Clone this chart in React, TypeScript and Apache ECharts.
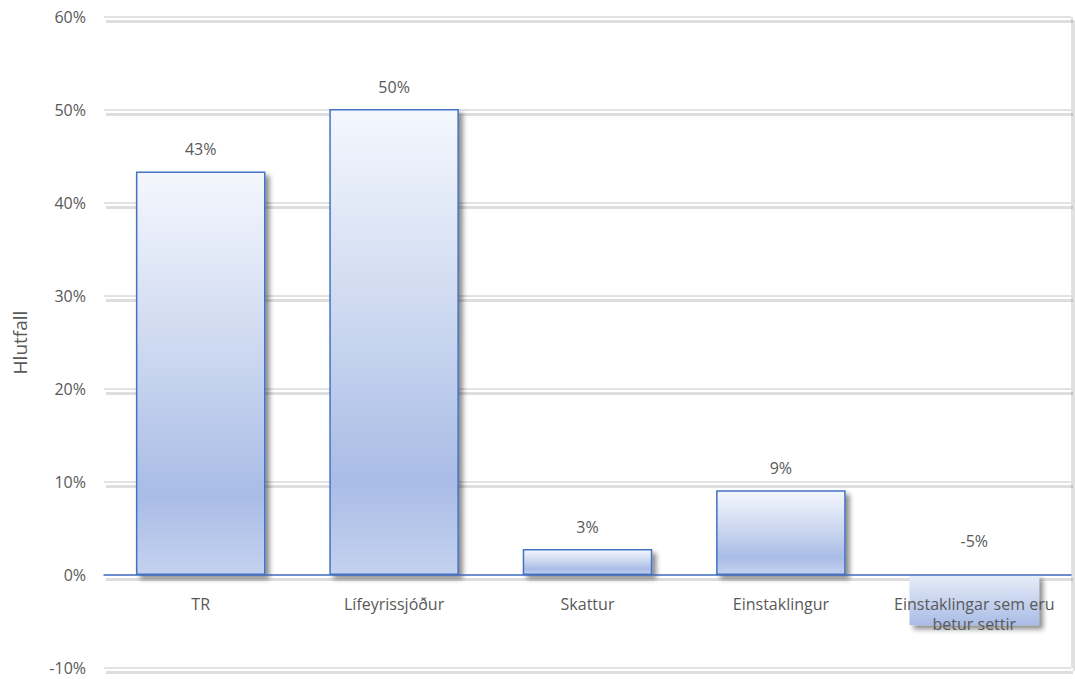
import React, { useEffect, useRef } from "react";
import * as echarts from "echarts";

const categories = ["TR", "Lífeyrissjóður", "Skattur", "Einstaklingur", "Einstaklingar sem eru\nbetur settir"];
const values = [43.4, 50.1, 2.8, 9.1, -5.4];
const yTicks = { min: -10, max: 60, interval: 10 };
const yAxisName = "Hlutfall";

const FONT = "'Open Sans', sans-serif";
const TEXT = "#595959";

export default function App() {
  const ref = useRef<HTMLDivElement>(null);
  useEffect(() => {
    if (!ref.current) return;
    const chart = echarts.init(ref.current, null, { renderer: "svg" });
    const posGrad = new echarts.graphic.LinearGradient(0, 0, 0, 1, [
      { offset: 0, color: "#f4f7fd" },
      { offset: 0.45, color: "#ccd8f0" },
      { offset: 0.8, color: "#a9bce6" },
      { offset: 1, color: "#c4d2ef" },
    ]);
    const negGrad = new echarts.graphic.LinearGradient(0, 0, 0, 1, [
      { offset: 0, color: "#e8edf8" },
      { offset: 1, color: "#a9bce6" },
    ]);
    const data = values.map((v) =>
      v < 0
        ? {
            value: v,
            itemStyle: { color: negGrad, borderWidth: 0 },
            label: { position: "insideTop", offset: [0, -56] },
          }
        : { value: v }
    );
    const W = 1075, H = 679;
    const top = 17, bottom = 11;
    const plotH = H - top - bottom;
    const zeroFromBottom = (plotH * (0 - yTicks.min)) / (yTicks.max - yTicks.min);
    const gridMain = { left: 104, right: 4, top, bottom, outerBoundsMode: "none", containLabel: false };
    const gridShadow = { left: 106, right: 2, top: top + 4, bottom: bottom - 4, outerBoundsMode: "none", containLabel: false };
    chart.setOption({
      animation: false,
      textStyle: { fontFamily: FONT },
      grid: [gridShadow, gridMain],
      graphic: [
        {
          type: "line",
          shape: { x1: W - 3, y1: top, x2: W - 3, y2: H - bottom },
          style: { stroke: "#d9d9d9", lineWidth: 1.5 },
          z: 0,
        },
        {
          type: "line",
          shape: { x1: W - 1, y1: top + 3, x2: W - 1, y2: H - bottom + 3 },
          style: { stroke: "rgba(0,0,0,0.12)", lineWidth: 2 },
          z: 0,
        },
      ],
      xAxis: [
        {
          type: "category",
          gridIndex: 0,
          data: categories,
          show: false,
        },
        {
          type: "category",
          gridIndex: 1,
          data: categories,
          z: 10,
          position: "bottom",
          offset: -zeroFromBottom,
          axisLine: { onZero: false, lineStyle: { color: "#4472c4", width: 1.5 } },
          axisTick: { show: false },
          axisLabel: {
            color: TEXT,
            fontSize: 16,
            margin: 19,
            lineHeight: 20,
            fontFamily: FONT,
            interval: 0,
            hideOverlap: false,
          },
        },
      ],
      yAxis: [
        {
          type: "value",
          gridIndex: 0,
          min: yTicks.min,
          max: yTicks.max,
          interval: yTicks.interval,
          axisLine: { show: false },
          axisTick: { show: false },
          axisLabel: { show: false },
          splitLine: { lineStyle: { color: "rgba(0,0,0,0.13)", width: 3 } },
        },
        {
          type: "value",
          gridIndex: 1,
          min: yTicks.min,
          max: yTicks.max,
          interval: yTicks.interval,
          name: yAxisName,
          nameLocation: "middle",
          nameRotate: 90,
          nameGap: 75,
          nameTextStyle: { color: TEXT, fontSize: 19, fontFamily: FONT },
          axisLine: { show: false },
          axisTick: { show: false },
          axisLabel: { color: TEXT, fontSize: 16, margin: 18, formatter: (v: number) => v + "%", fontFamily: FONT },
          splitLine: { lineStyle: { color: "#d9d9d9", width: 1.5 } },
        },
      ],
      series: [
        {
          type: "bar",
          xAxisIndex: 1,
          yAxisIndex: 1,
          data,
          barWidth: "67%",
          itemStyle: {
            color: posGrad,
            borderColor: "#4472c4",
            borderWidth: 1.5,
            shadowColor: "rgba(0,0,0,0.45)",
            shadowBlur: 5,
            shadowOffsetX: 4,
            shadowOffsetY: 4,
          },
          label: {
            show: true,
            position: "top",
            distance: 14,
            color: TEXT,
            fontSize: 16,
            fontFamily: FONT,
            formatter: (p: any) => Math.round(p.value) + "%",
          },
        },
      ],
    });
    return () => chart.dispose();
  }, []);
  return <div ref={ref} style={{ width: 1075, height: 679, position: "absolute", left: 0, top: 0, background: "#fff" }} />;
}
